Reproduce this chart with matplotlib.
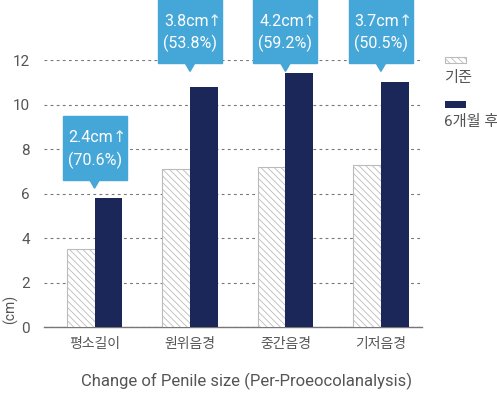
import numpy as np
import matplotlib
matplotlib.use('Agg')
import matplotlib.pyplot as plt
from matplotlib.patches import Polygon, Rectangle

plt.rcParams['font.family'] = ['Roboto', 'Noto Sans CJK KR', 'DejaVu Sans']
plt.rcParams['hatch.color'] = '#8a8a8a'
plt.rcParams['hatch.linewidth'] = 0.6

# 데이터
categories = ['평소길이', '원위음경', '중간음경', '기저음경']
series = ['기준', '6개월 후']
before = [3.5, 7.1, 7.2, 7.3]
after = [5.8, 10.8, 11.4, 11.0]
gain_cm = ['2.4', '3.8', '4.2', '3.7']
gain_pct = ['70.6', '53.8', '59.2', '50.5']
yticks = [0, 2, 4, 6, 8, 10, 12]

# 말풍선 아래쪽 위치(데이터 단위)
box_bottom = [6.6, 11.85, 11.85, 11.85]

gray = '#555555'
navy = '#1c2759'
blue = '#45a6d8'

fig = plt.figure(figsize=(4.97, 3.94), dpi=100)
ax = fig.add_axes([0.0885, 0.170, 0.7605, 0.6777])

x = np.arange(len(categories))
w = 0.29
ax.bar(x - w / 2, before, w, color='white', edgecolor='#bbbbbb', linewidth=0.8,
       hatch='\\\\\\\\\\', zorder=3)
ax.bar(x + w / 2, after, w, color=navy, linewidth=0, zorder=3)

ax.set_xlim(-0.53, 3.43)
ax.set_ylim(0, 12)
ax.set_yticks(yticks)
ax.set_xticks(x)
ax.set_xticklabels(categories, fontsize=10, color=gray)
ax.tick_params(axis='y', length=0, pad=10, labelsize=11, labelcolor=gray)
ax.tick_params(axis='x', length=0, pad=7)
for s in ['left', 'right', 'top']:
    ax.spines[s].set_visible(False)
ax.spines['bottom'].set_color('#777777')
ax.spines['bottom'].set_linewidth(1)
ax.grid(axis='y', linestyle=(0, (2.5, 3)), color='#777777', linewidth=0.8, zorder=0)
ax.set_axisbelow(True)

ax.set_xlabel('Change of Penile size (Per-Proeocolanalysis)', fontsize=12, color=gray)
ax.xaxis.set_label_coords(0.537, -0.172)
ax.text(-0.09, 0.065, '(cm)', transform=ax.transAxes, rotation=90, fontsize=10,
        color=gray, ha='center', va='center')

# 말풍선
bw, bh = 0.67, 2.88
for i in range(len(categories)):
    cx = x[i]
    y0 = box_bottom[i]
    ax.add_patch(Rectangle((cx - bw / 2, y0), bw, bh, color=blue, clip_on=False, zorder=5))
    ax.add_patch(Polygon([[cx - 0.05, y0 + 0.01], [cx + 0.05, y0 + 0.01], [cx, y0 - 0.36]],
                         closed=True, color=blue, clip_on=False, zorder=5))
    ax.text(cx - 0.04, y0 + bh * 0.66, gain_cm[i] + 'cm', color='white', fontsize=11.5,
            ha='center', va='center', zorder=6)
    ax.text(cx + 0.255, y0 + bh * 0.66, '↑', color='#e6f3fa', fontsize=11.5,
            family=['DejaVu Sans'], ha='center', va='center', zorder=6)
    ax.text(cx, y0 + bh * 0.31, '(' + gain_pct[i] + '%)', color='white', fontsize=11.5,
            ha='center', va='center', zorder=6)

# 범례 (패치 아래에 글자)
W, H = 497, 394
fig.add_artist(Rectangle((445 / W, 1 - 63 / H), 21 / W, 6 / H, transform=fig.transFigure,
                         facecolor='white', edgecolor='#bbbbbb', linewidth=0.8,
                         hatch='\\\\\\\\\\'))
fig.text(444 / W, 1 - 78 / H, series[0], fontsize=11, color=gray, va='center', ha='left')
fig.add_artist(Rectangle((445 / W, 1 - 108 / H), 21 / W, 7 / H, transform=fig.transFigure,
                         facecolor=navy, linewidth=0))
fig.text(444 / W, 1 - 122 / H, series[1], fontsize=11, color=gray, va='center', ha='left')

plt.savefig('out.png', dpi=100)
